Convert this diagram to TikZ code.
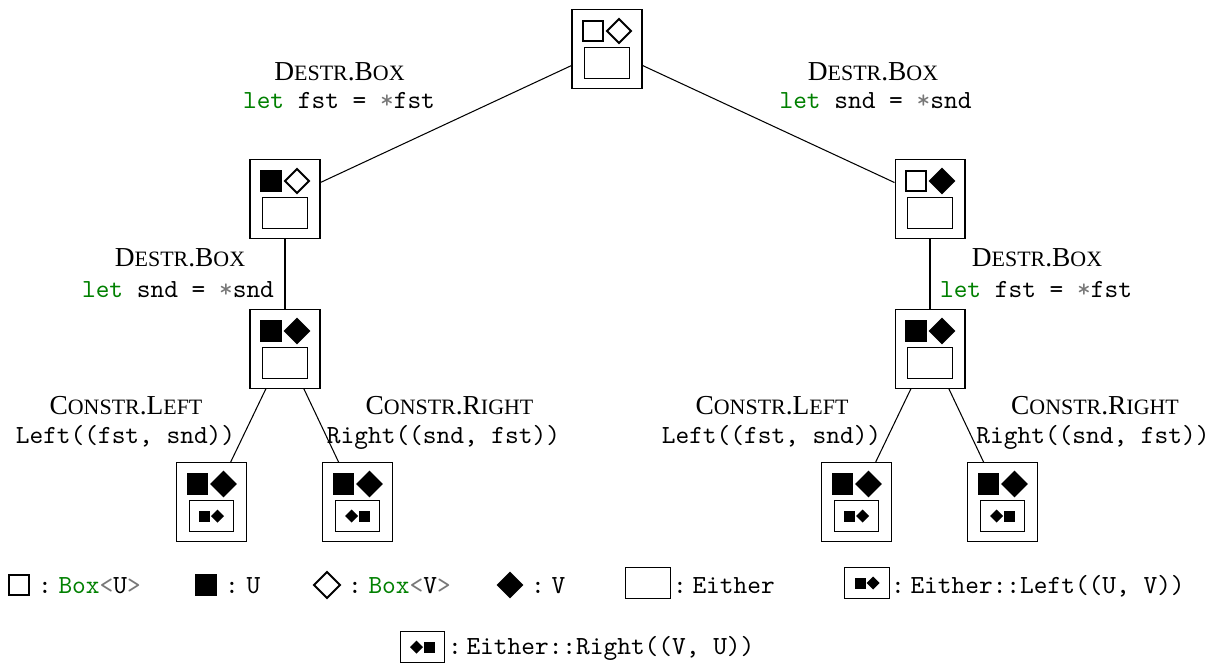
\documentclass[tikz,border=0pt]{standalone}
\usepackage{fontspec}
\setmainfont{Liberation Serif}
\definecolor{kw}{RGB}{0,128,0}
\definecolor{op}{RGB}{120,120,120}
\newcommand\fsc[2]{#1{\fontsize{8.4}{9}\selectfont #2}}
\newcommand\destr{\fsc{D}{ESTR}.\fsc{B}{OX}}
\newcommand\cleft{\fsc{C}{ONSTR}.\fsc{L}{EFT}}
\newcommand\cright{\fsc{C}{ONSTR}.\fsc{R}{IGHT}}
\tikzset{
  x=0.383pt, y=-0.383pt,
  outer/.style={draw, minimum width=26.8pt, minimum height=29.9pt, inner sep=0pt},
  inbox/.style={draw, minimum width=17.2pt, minimum height=11.9pt, inner sep=0pt},
  glyph/.style={line width=0.7pt, line join=miter},
  lab/.style={inner sep=0pt, anchor=base, font=\fontsize{10.5}{12}\selectfont\rmfamily},
  code/.style={inner sep=0pt, anchor=base, font=\fontsize{10}{12}\selectfont\ttfamily},
  legtext/.style={inner sep=0pt, anchor=base west, font=\fontsize{10}{12}\selectfont\ttfamily},
  colon/.style={inner sep=0pt, anchor=base, font=\fontsize{10}{12}\selectfont\ttfamily},
}
\newcommand\stnode[5]{%
  \node[outer] (#1) at (#2) {};
  \begin{scope}[shift={(#1.center)}]
    \draw[glyph,#3] (-24,-28) rectangle (-4,-8);
    \draw[glyph,#4] (12,-30) -- (24,-18) -- (12,-6) -- (0,-18) -- cycle;
    \node[inbox] (#1-in) at (0,14) {};
    \ifcase#5\or
      \fill (-12.5,8.5) rectangle (-1.5,19.5);
      \fill (6,7.5) -- (12.5,14) -- (6,20.5) -- (-0.5,14) -- cycle;
    \or
      \fill (-6,7.5) -- (0.5,14) -- (-6,20.5) -- (-12.5,14) -- cycle;
      \fill (1.5,8.5) rectangle (12.5,19.5);
    \fi
  \end{scope}}
\begin{document}
\begin{tikzpicture}
\useasboundingbox (0,0) rectangle (1221,665);
% tree nodes
\stnode{top}{607,49}{}{}{0}
\stnode{l1}{285,199}{fill=black}{}{0}
\stnode{r1}{930,199}{}{fill=black}{0}
\stnode{l2}{285,349}{fill=black}{fill=black}{0}
\stnode{r2}{930,349}{fill=black}{fill=black}{0}
\stnode{ll}{211.5,502}{fill=black}{fill=black}{1}
\stnode{lr}{357.5,502}{fill=black}{fill=black}{2}
\stnode{rl}{856.5,502}{fill=black}{fill=black}{1}
\stnode{rr}{1002.5,502}{fill=black}{fill=black}{2}
% connectors
\draw (top) -- (l1);
\draw (top) -- (r1);
\draw (l1) -- (l2);
\draw (r1) -- (r2);
\draw (l2) -- (ll);
\draw (l2) -- (lr);
\draw (r2) -- (rl);
\draw (r2) -- (rr);
% labels
\node[lab] (t1) at (339.5,81) {\destr};
\node[code] (c1) at (339,109) {\textcolor{kw}{let} fst = \textcolor{op}{*}fst};
\node[lab] (t2) at (873,81) {\destr};
\node[code] (c2) at (875.5,109) {\textcolor{kw}{let} snd = \textcolor{op}{*}snd};
\node[lab] (t3) at (180,266) {\destr};
\node[code] (c3) at (178,297) {\textcolor{kw}{let} snd = \textcolor{op}{*}snd};
\node[lab] (t4) at (1037,266) {\destr};
\node[code] (c4) at (1036,297) {\textcolor{kw}{let} fst = \textcolor{op}{*}fst};
\node[lab] (t5) at (126,414) {\cleft};
\node[code] (c5) at (125.5,443) {Left((fst, snd))};
\node[lab] (t6) at (449.5,414) {\cright};
\node[code] (c6) at (443.5,443) {Right((snd, fst))};
\node[lab] (t7) at (772,414) {\cleft};
\node[code] (c7) at (771.5,443) {Left((fst, snd))};
\node[lab] (t8) at (1095,414) {\cright};
\node[code] (c8) at (1093,443) {Right((snd, fst))};
% legend row 1
\draw[glyph] (9,575) rectangle (29,595);
\node[colon] (k1) at (45,593) {:};
\node[legtext] (g1) at (58,593) {\textcolor{kw}{Box}\textcolor{op}{<}U\textcolor{op}{>}};
\draw[glyph,fill=black] (196,575) rectangle (216,595);
\node[colon] (k2) at (232,593) {:};
\node[legtext] (g2) at (246,593) {U};
\draw[glyph] (327,572) -- (340,585) -- (327,598) -- (314,585) -- cycle;
\node[colon] (k3) at (355,593) {:};
\node[legtext] (g3) at (368,593) {\textcolor{kw}{Box}\textcolor{op}{<}V\textcolor{op}{>}};
\draw[glyph,fill=black] (510,573) -- (522,585) -- (510,597) -- (498,585) -- cycle;
\node[colon] (k4) at (538,593) {:};
\node[legtext] (g4) at (551,593) {V};
\node[inbox] (e1) at (648,583) {};
\node[colon] (k5) at (680,593) {:};
\node[legtext] (g5) at (692,593) {Either};
\node[inbox] (e2) at (867,583) {};
\begin{scope}[shift={(e2.center)}]
  \fill (-12.5,-5.5) rectangle (-1.5,5.5);
  \fill (6,-6.5) -- (12.5,0) -- (6,6.5) -- (-0.5,0) -- cycle;
\end{scope}
\node[colon] (k6) at (898,593) {:};
\node[legtext] (g6) at (910,593) {Either::Left((U, V))};
% legend row 2
\node[inbox] (e3) at (422.5,647) {};
\begin{scope}[shift={(e3.center)}]
  \fill (-6,-6.5) -- (0.5,0) -- (-6,6.5) -- (-12.5,0) -- cycle;
  \fill (1.5,-5.5) rectangle (12.5,5.5);
\end{scope}
\node[colon] (k7) at (455,654) {:};
\node[legtext] (g7) at (466,654) {Either::Right((V, U))};
\end{tikzpicture}
\end{document}
